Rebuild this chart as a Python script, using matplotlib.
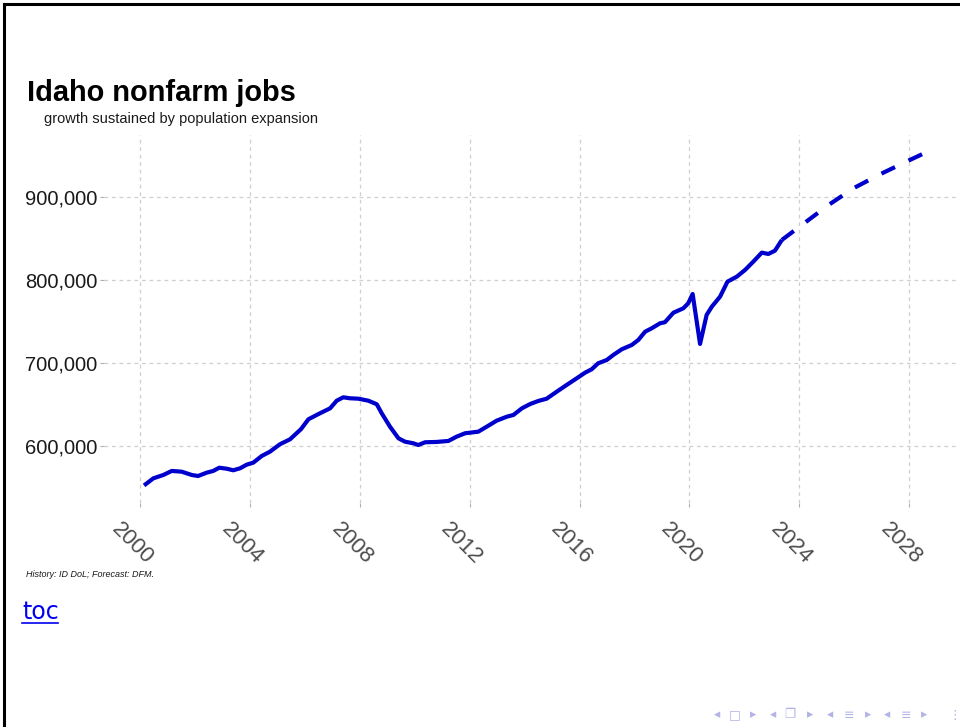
import numpy as np
import matplotlib
matplotlib.use('Agg')
import matplotlib.pyplot as plt
import matplotlib.transforms as mtransforms
from matplotlib.lines import Line2D
from matplotlib.ticker import FuncFormatter

# history (quarterly), thousands of jobs
hist_year = [2000.13, 2000.47, 2000.83, 2001.14, 2001.50, 2001.87, 2002.10, 2002.41,
             2002.65, 2002.87, 2003.14, 2003.38, 2003.63, 2003.87, 2004.11, 2004.42,
             2004.72, 2005.08, 2005.45, 2005.85, 2006.12, 2006.54, 2006.91, 2007.15,
             2007.39, 2007.63, 2007.94, 2008.30, 2008.61, 2008.79, 2009.09, 2009.40,
             2009.64, 2009.94, 2010.12, 2010.37, 2010.79, 2011.22, 2011.52, 2011.83,
             2012.01, 2012.31, 2012.62, 2012.98, 2013.35, 2013.59, 2013.90, 2014.20,
             2014.50, 2014.80, 2015.17, 2015.53, 2015.90, 2016.20, 2016.44, 2016.68,
             2016.99, 2017.23, 2017.54, 2017.90, 2018.14, 2018.39, 2018.63, 2018.93,
             2019.11, 2019.42, 2019.78, 2019.96, 2020.12, 2020.39, 2020.63, 2020.82,
             2021.12, 2021.39, 2021.73, 2022.03, 2022.33, 2022.64, 2022.88, 2023.12,
             2023.37]
hist_jobs = [552.0, 560.6, 564.6, 569.5, 568.6, 564.6, 563.4, 567.4,
             569.5, 573.4, 572.2, 570.3, 572.7, 577.1, 579.5, 587.6,
             592.8, 601.7, 607.7, 620.0, 631.9, 639.1, 645.1, 654.3,
             658.4, 657.2, 656.7, 654.3, 650.0, 639.1, 623.0, 608.9,
             604.8, 602.9, 600.8, 604.1, 604.5, 605.7, 610.9, 615.0,
             615.7, 616.9, 623.0, 630.2, 635.0, 637.1, 645.1, 650.3,
             654.0, 656.7, 665.2, 673.3, 681.4, 688.1, 692.2, 699.5,
             703.4, 709.5, 716.4, 721.5, 727.6, 737.6, 741.7, 747.7,
             749.0, 760.5, 765.8, 771.9, 783.1, 722.8, 757.8, 767.8,
             779.9, 798.0, 804.0, 812.1, 822.1, 833.0, 831.4, 835.4,
             848.3]

# forecast (DFM)
fc_year = [2023.37, 2024.10, 2025.07, 2025.98, 2026.95, 2027.98, 2028.89]
fc_jobs = [848.3, 866.4, 890.5, 910.7, 927.6, 944.0, 958.1]

x_ticks = [2000, 2004, 2008, 2012, 2016, 2020, 2024, 2028]
y_ticks = [600, 700, 800, 900]

LINE = '#0000CC'
GRID = '#cfcfcf'
NAV = '#b3b3e6'

fig = plt.figure(figsize=(9.6, 7.27), dpi=100)
fig.patch.set_facecolor('white')
ax = fig.add_axes([104/960, 1 - 503/727, 854/960, 368/727])

ax.plot(hist_year, np.array(hist_jobs) * 1000, color=LINE, lw=3,
        solid_joinstyle='round', solid_capstyle='butt')
ax.plot(fc_year, np.array(fc_jobs) * 1000, color=LINE, lw=3,
        linestyle=(0, (3.6, 3.6)), dash_capstyle='butt')

ax.set_xlim(1998.67, 2029.79)
ax.set_ylim(530800, 975000)
ax.set_xticks(x_ticks)
ax.set_yticks([v * 1000 for v in y_ticks])
ax.yaxis.set_major_formatter(FuncFormatter(lambda v, p: f'{int(v):,}'))

for s in ax.spines.values():
    s.set_visible(False)
ax.grid(True, color=GRID, lw=0.9, linestyle=(0, (3, 3)))
ax.set_axisbelow(True)
ax.tick_params(axis='both', length=3, width=0.8, color='#b0b0b0', pad=2)
ax.tick_params(axis='y', labelsize=14.5, labelcolor='#1a1a1a')
ax.tick_params(axis='x', labelsize=16, labelcolor='#4d4d4d', pad=8)
shift = mtransforms.ScaledTranslation(-8/100, 0, fig.dpi_scale_trans)
for lab in ax.get_yticklabels():
    lab.set_fontfamily('Liberation Sans')
for lab in ax.get_xticklabels():
    lab.set_fontfamily('Liberation Sans')
    lab.set_rotation(-45)
    lab.set_ha('center')
    lab.set_va('top')
    lab.set_transform(lab.get_transform() + shift)

fig.text(27/960, 1 - 101/727, 'Idaho nonfarm jobs', fontsize=20.9, fontweight='bold',
         family='Liberation Sans', va='baseline', ha='left')
fig.text(44/960, 1 - 123.5/727, 'growth sustained by population expansion', fontsize=10.5,
         family='Liberation Sans', va='baseline', ha='left', color='#1a1a1a')
fig.text(26/960, 1 - 577/727, 'History: ID DoL; Forecast: DFM.', fontsize=6.5, style='italic',
         family='Liberation Sans', va='baseline', ha='left', color='#1a1a1a')

# "toc" link
fig.text(22/960, 1 - 619/727, 'toc', fontsize=17, color='#0000EE', family='DejaVu Sans',
         va='baseline', ha='left')
fig.add_artist(Line2D([22/960, 58/960], [1 - 623/727, 1 - 623/727], color='#0000EE', lw=1.2))

# slide frame
fig.add_artist(Line2D([4/960, 4/960], [0, 1 - 4/727], color='black', lw=2.2))
fig.add_artist(Line2D([4/960, 1], [1 - 4/727, 1 - 4/727], color='black', lw=2.2))

# beamer navigation symbols
nav = [(717, '◂'), (735, '□'), (753, '▸'), (773, '◂'), (790, '❐'), (810, '▸'),
       (830, '◂'), (849, '≡'), (868, '▸'), (887, '◂'), (906, '≡'), (924, '▸'), (955, '⋮')]
for xp, ch in nav:
    fig.text(xp/960, 1 - 715/727, ch, fontsize=9, color=NAV,
             family=['DejaVu Sans', 'Noto Sans CJK JP'], ha='center', va='center')

fig.savefig('out.png', dpi=100, facecolor='white')
